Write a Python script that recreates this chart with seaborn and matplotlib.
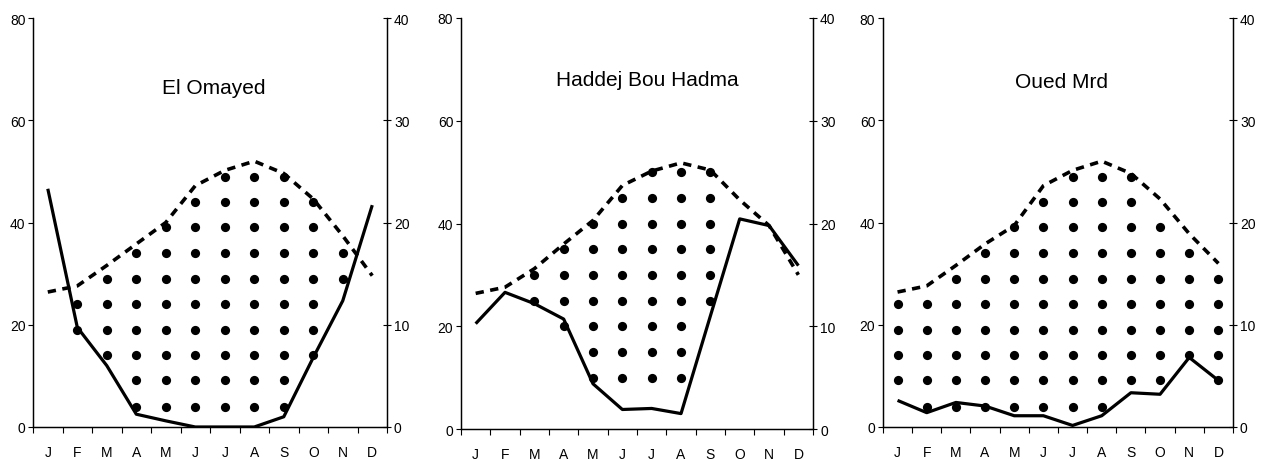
import matplotlib
matplotlib.use('Agg')
import matplotlib.pyplot as plt
import seaborn as sns
import numpy as np

months = ['J', 'F', 'M', 'A', 'M', 'J', 'J', 'A', 'S', 'O', 'N', 'D']
stations = ['El Omayed', 'Haddej Bou Hadma', 'Oued Mrd']

# monthly precipitation (mm, left axis)
precip_omayed = [46.6, 19.5, 12.0, 2.5, 1.2, 0.0, 0.0, 0.0, 2.0, 13.6, 24.7, 43.4]
precip_haddej = [20.5, 26.6, 24.4, 21.4, 8.8, 3.8, 4.0, 3.0, 22.0, 40.9, 39.6, 31.8]
precip_oued = [5.2, 2.8, 4.8, 4.1, 2.2, 2.2, 0.3, 2.2, 6.7, 6.4, 13.6, 9.1]

# monthly mean temperature (°C, right axis)
temp_omayed = [13.2, 13.8, 15.8, 17.9, 20.0, 23.6, 25.1, 26.0, 24.8, 22.3, 18.7, 14.8]
temp_haddej = [13.2, 13.8, 15.6, 18.0, 20.3, 23.7, 25.1, 25.9, 25.2, 22.3, 19.8, 15.0]
temp_oued = [13.2, 13.8, 15.8, 17.9, 19.7, 23.6, 25.1, 26.0, 24.8, 22.3, 18.9, 16.0]

# dry-period dot pattern: levels and lowest/highest dot per month (0 = none)
dot_levels_a = [3.9, 9.1, 14.1, 19.0, 24.1, 28.9, 34.0, 39.1, 44.0, 48.9]
dot_levels_b = [10, 15, 20, 25, 30, 35, 40, 45, 50]
dot_lo_omayed = [0, 19, 14, 3.9, 3.9, 3.9, 3.9, 3.9, 3.9, 14, 28.9, 0]
dot_hi_omayed = [0, 24.1, 28.9, 34, 39.1, 44, 48.9, 48.9, 48.9, 44, 34, 0]
dot_lo_haddej = [0, 0, 25, 20, 10, 10, 10, 10, 25, 0, 0, 0]
dot_hi_haddej = [0, 0, 30, 35, 40, 45, 50, 50, 50, 0, 0, 0]
dot_lo_oued = [9.1, 3.9, 3.9, 3.9, 3.9, 3.9, 3.9, 3.9, 9.1, 9.1, 14.1, 9.1]
dot_hi_oued = [24.1, 24.1, 28.9, 34, 39.1, 44, 48.9, 48.9, 48.9, 39.1, 34, 28.9]

panels = [
    (stations[0], precip_omayed, temp_omayed, dot_levels_a, dot_lo_omayed, dot_hi_omayed),
    (stations[1], precip_haddej, temp_haddej, dot_levels_b, dot_lo_haddej, dot_hi_haddej),
    (stations[2], precip_oued, temp_oued, dot_levels_a, dot_lo_oued, dot_hi_oued),
]
title_pos = [(0.51, 0.83), (0.53, 0.85), (0.51, 0.845)]
axes_rects = [
    [0.026, 0.0696, 0.2785, 0.889],
    [0.3627, 0.0652, 0.277, 0.8935],
    [0.6947, 0.0696, 0.2754, 0.889],
]

sns.set_style('ticks')
plt.rcParams['font.family'] = ['Liberation Sans', 'DejaVu Sans']
plt.rcParams['text.color'] = 'black'
plt.rcParams['xtick.color'] = 'black'
plt.rcParams['ytick.color'] = 'black'

fig = plt.figure(figsize=(12.71, 4.60), dpi=100)
x = np.arange(12)

for (name, precip, temp, levels, lo, hi), rect, tpos in zip(panels, axes_rects, title_pos):
    ax = fig.add_axes(rect)
    ax2 = ax.twinx()

    # dots
    dx, dy = [], []
    for i in range(12):
        if hi[i] == 0:
            continue
        for lv in levels:
            if lo[i] - 0.01 <= lv <= hi[i] + 0.01:
                dx.append(i)
                dy.append(lv)
    sns.scatterplot(x=dx, y=dy, ax=ax, color='black', s=44, linewidth=0, zorder=2)

    sns.lineplot(x=x, y=precip, ax=ax, color='black', linewidth=2.3,
                 solid_joinstyle='round', solid_capstyle='butt', zorder=3)
    sns.lineplot(x=x, y=temp, ax=ax2, color='black', linewidth=2.6,
                 dashes=False, zorder=3)
    ax2.lines[-1].set_dashes((2.3, 1.8))

    ax.set_xlim(-0.5, 11.5)
    ax.set_ylim(0, 80)
    ax2.set_ylim(0, 40)
    ax.set_yticks([0, 20, 40, 60, 80])
    ax2.set_yticks([0, 10, 20, 30, 40])

    ax.set_xticks(np.arange(-0.5, 12, 1))
    ax.set_xticklabels([])
    ax.set_xticks(x, minor=True)
    ax.set_xticklabels(months, minor=True)
    ax.tick_params(axis='x', which='major', direction='out', length=4, width=0.8, color='black')
    ax.tick_params(axis='x', which='minor', length=0, pad=13, labelsize=10)
    ax.tick_params(axis='y', direction='out', length=3.5, width=0.8, pad=2, labelsize=10)
    ax2.tick_params(axis='y', direction='inout', length=6, width=0.8, pad=2, labelsize=10)

    for a in (ax, ax2):
        a.spines['top'].set_visible(False)
        for s in ('left', 'right', 'bottom'):
            a.spines[s].set_color('black')
            a.spines[s].set_linewidth(0.9)
        a.set_xlabel('')
        a.set_ylabel('')
    ax.text(tpos[0], tpos[1], name, transform=ax.transAxes, ha='center', va='center',
            fontsize=15, color='black', family=['Liberation Sans'])

plt.savefig('out.png', dpi=100)
plt.close()
